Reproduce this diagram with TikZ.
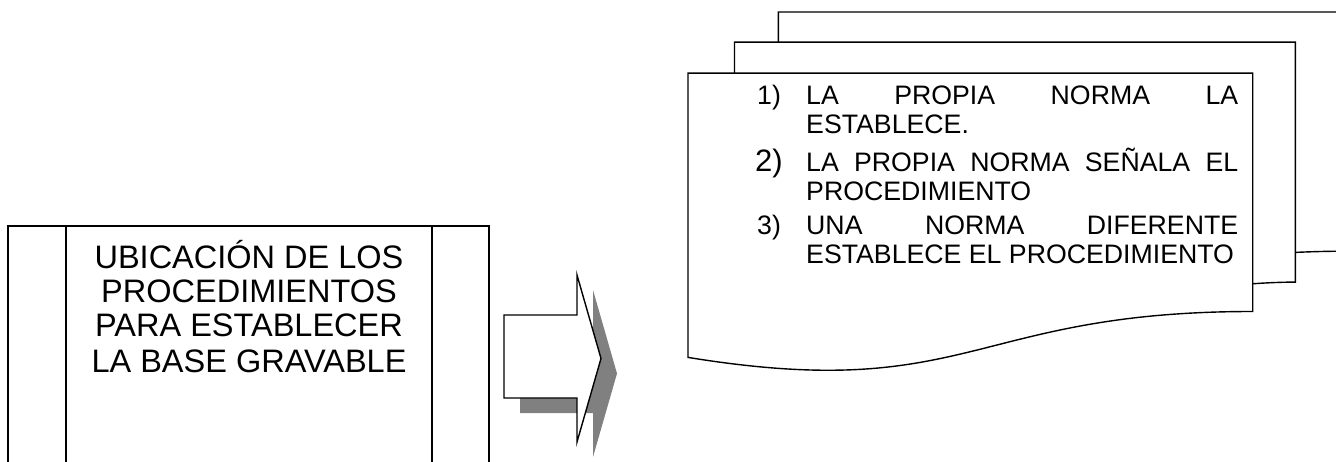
\documentclass[tikz,border=0pt]{standalone}
\usepackage{fontspec}
\setmainfont{Liberation Sans}
\definecolor{shadowgray}{RGB}{128,128,128}
\tikzset{
  outline/.style={draw=black, line width=1.4pt, line join=miter},
  bigtxt/.style={anchor=base, inner sep=0pt, font=\fontsize{32.5}{34.4}\selectfont},
  itemtxt/.style={anchor=base west, inner sep=0pt, font=\fontsize{26.7}{28.5}\selectfont},
  numtxt/.style={anchor=base west, inner sep=0pt, font=\fontsize{26.7}{28.5}\selectfont},
  bignum/.style={anchor=base west, inner sep=0pt, font=\fontsize{31}{33}\selectfont}
}
\begin{document}
\begin{tikzpicture}[x=1pt,y=-1pt]
\useasboundingbox (0,0) rectangle (1336,462);
\clip (0,0) rectangle (1336,462);

% left predefined-process box (continues below the page)
\draw[outline] (8,480) -- (8,226) -- (489,226) -- (489,480);
\draw[outline] (66,226) -- (66,480);
\draw[outline] (432,226) -- (432,480);
\node[bigtxt] (l1) at (249,269) {UBICACIÓN DE LOS};
\node[bigtxt] (l2) at (249,303) {PROCEDIMIENTOS};
\node[bigtxt] (l3) at (249,337) {PARA ESTABLECER};
\node[bigtxt] (l4) at (249,372) {LA BASE GRAVABLE};

% block arrow with shadow
\fill[shadowgray] (520,330) -- (593,330) -- (593,290) -- (617,373.5) -- (593,457) -- (593,413) -- (520,413) -- cycle;
\filldraw[outline, fill=white] (504,315) -- (577,315) -- (577,275) -- (601,358.5) -- (577,442) -- (577,398) -- (504,398) -- cycle;

% multi-document shape
\draw[outline, fill=white] (778.3,42.2) -- (778.3,12) -- (1344,12) -- (1344,251.2)
  .. controls (1319.7,251.2) and (1295.4,252.4) .. (1295.4,252.4);
\draw[outline, fill=white] (734.5,73.1) -- (734.5,42.2) -- (1295.4,42.2) -- (1295.4,282.1)
  .. controls (1274.1,282.1) and (1252.7,283.8) .. (1252.7,283.8);
\draw[outline, fill=white] (688,357.4) .. controls (970.4,403.3) and (970.4,311.5) .. (1252.7,311.5)
  -- (1252.7,73.1) -- (688,73.1) -- cycle;

% list text
\node[numtxt] (n1) at (757,105) {1)};
\node[itemtxt] (t1a) at (806,105) {\makebox[432pt][s]{LA PROPIA NORMA LA}};
\node[itemtxt] (t1b) at (806,134) {ESTABLECE.};
\node[bignum] (n2) at (755,172) {2)};
\node[itemtxt] (t2a) at (806,172) {\makebox[432pt][s]{LA PROPIA NORMA SEÑALA EL}};
\node[itemtxt] (t2b) at (806,201) {PROCEDIMIENTO};
\node[numtxt] (n3) at (757,235) {3)};
\node[itemtxt] (t3a) at (806,235) {\makebox[432pt][s]{UNA NORMA DIFERENTE}};
\node[itemtxt] (t3b) at (806,264) {ESTABLECE EL PROCEDIMIENTO};
\end{tikzpicture}
\end{document}
